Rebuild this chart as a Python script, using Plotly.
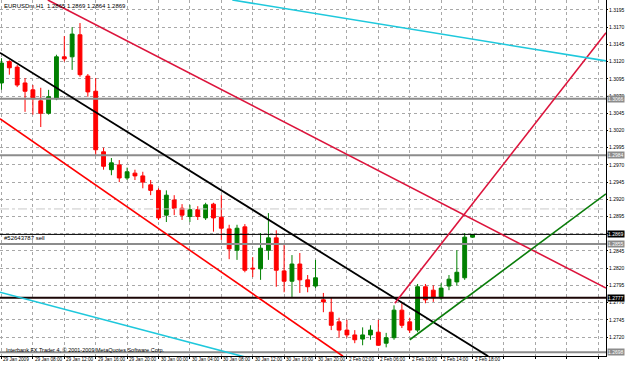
import plotly.graph_objects as go

# ---- candle data (bar index, OHLC) ----
bars = list(range(61))
opens = [1.3089, 1.3120, 1.3112, 1.3089, 1.3079, 1.3063, 1.3045, 1.3066, 1.3127, 1.3127,
         1.3159, 1.3099, 1.3077, 1.2989, 1.2963, 1.2970, 1.2951, 1.2958, 1.2954, 1.2941,
         1.2933, 1.2897, 1.2919, 1.2907, 1.2895, 1.2905, 1.2893, 1.2913, 1.2894, 1.2877,
         1.2846, 1.2880, 1.2820, 1.2819, 1.2846, 1.2864, 1.2816, 1.2801, 1.2826, 1.2803,
         1.2794, 1.2774, 1.2756, 1.2742, 1.2730, 1.2723, 1.2717, 1.2723, 1.2727, 1.2711,
         1.2719, 1.2759, 1.2742, 1.2730, 1.2793, 1.2788, 1.2777, 1.2794, 1.2800, 1.2806,
         1.2865]
highs = [1.3125, 1.3122, 1.3115, 1.3096, 1.3086, 1.3082, 1.3079, 1.3130, 1.3157, 1.3170,
         1.3176, 1.3102, 1.3096, 1.2995, 1.2980, 1.2977, 1.2966, 1.2963, 1.2960, 1.2948,
         1.2936, 1.2933, 1.2926, 1.2913, 1.2912, 1.2910, 1.2915, 1.2915, 1.2926, 1.2883,
         1.2883, 1.2884, 1.2836, 1.2871, 1.2900, 1.2875, 1.2854, 1.2839, 1.2842, 1.2810,
         1.2832, 1.2784, 1.2778, 1.2748, 1.2745, 1.2730, 1.2734, 1.2737, 1.2745, 1.2726,
         1.2766, 1.2769, 1.2748, 1.2797, 1.2797, 1.2795, 1.2798, 1.2810, 1.2846, 1.2871,
         1.2869]
lows = [1.3079, 1.3101, 1.3083, 1.3047, 1.3043, 1.3025, 1.3043, 1.3064, 1.3120, 1.3108,
        1.3098, 1.3069, 1.2984, 1.2963, 1.2955, 1.2945, 1.2948, 1.2948, 1.2936, 1.2926,
        1.2890, 1.2887, 1.2897, 1.2890, 1.2887, 1.2890, 1.2890, 1.2873, 1.2861, 1.2833,
        1.2832, 1.2814, 1.2807, 1.2803, 1.2832, 1.2793, 1.2785, 1.2778, 1.2784, 1.2785,
        1.2791, 1.2756, 1.2730, 1.2719, 1.2719, 1.2711, 1.2708, 1.2716, 1.2707, 1.2705,
        1.2716, 1.2733, 1.2726, 1.2727, 1.2769, 1.2771, 1.2774, 1.2788, 1.2795, 1.2803,
        1.2864]
closes = [1.3118, 1.3111, 1.3086, 1.3077, 1.3066, 1.3045, 1.3069, 1.3127, 1.3124, 1.3160,
          1.3101, 1.3076, 1.2992, 1.2968, 1.2973, 1.2951, 1.2960, 1.2954, 1.2945, 1.2933,
          1.2893, 1.2926, 1.2907, 1.2897, 1.2905, 1.2895, 1.2912, 1.2893, 1.2878, 1.2848,
          1.2878, 1.2817, 1.2819, 1.2849, 1.2864, 1.2817, 1.2801, 1.2826, 1.2803, 1.2793,
          1.2806, 1.2771, 1.2737, 1.2730, 1.2723, 1.2716, 1.2723, 1.2730, 1.2708, 1.2719,
          1.2759, 1.2737, 1.2730, 1.2793, 1.2774, 1.2777, 1.2791, 1.2804, 1.2814, 1.2865,
          1.2869]

# ---- axis ticks ----
time_ticks = [0, 4, 8, 12, 16, 20, 24, 28, 32, 36, 40, 44, 48, 52, 56, 60, 64, 68, 72, 76]
time_labels = ["29 Jan 2009", "29 Jan 08:00", "29 Jan 12:00", "29 Jan 16:00", "29 Jan 20:00",
               "30 Jan 00:00", "30 Jan 04:00", "30 Jan 08:00", "30 Jan 12:00", "30 Jan 16:00",
               "30 Jan 20:00", "2 Feb 02:00", "2 Feb 06:00", "2 Feb 10:00", "2 Feb 14:00",
               "2 Feb 18:00", "", "", "", ""]
price_ticks = [1.2720, 1.2745, 1.2770, 1.2795, 1.2820, 1.2845, 1.2870, 1.2895, 1.2920, 1.2945,
               1.2970, 1.2995, 1.3020, 1.3045, 1.3070, 1.3095, 1.3120, 1.3145, 1.3170, 1.3195]
price_labels = ["1.2720", "1.2745", "1.2770", "1.2795", "1.2820", "1.2845", "1.2870", "1.2895",
                "1.2920", "1.2945", "1.2970", "1.2995", "1.3020", "1.3045", "1.3070", "1.3095",
                "1.3120", "1.3145", "1.3170", "1.3195"]

# ---- horizontal levels ----
level_prices = [1.3066, 1.2984, 1.2906, 1.2869, 1.2855, 1.2777, 1.2698]
level_colors = ["#8c8c8c", "#8c8c8c", "#c8c8c8", "#000000", "#8c8c8c", "#1a0505", "#8c8c8c"]
level_widths = [2, 2, 1, 1, 2, 2, 2]
level_dash = ["solid", "solid", "dashdot", "solid", "solid", "solid", "solid"]
level_box = [True, True, False, True, True, True, True]

# ---- trend lines: (bar0, price0, bar1, price1) ----
trend_black = [-0.2, 1.3133, 62.0, 1.2692]
trend_red = [-0.2, 1.3037, 43.5, 1.2692]
trend_crimson_down = [5.9, 1.32095, 77.0, 1.2791]
trend_crimson_up = [50.1, 1.2769, 77.0, 1.3162]
trend_green = [52.0, 1.2716, 77.0, 1.2928]
trend_cyan_up = [29.4, 1.32095, 77.0, 1.3121]
trend_cyan_low = [-0.2, 1.2785, 31.0, 1.2691]

x_min, x_max = -0.19, 77.0
y_min, y_max = 1.26924, 1.32095

fig = go.Figure()

for p, c, w, d in zip(level_prices, level_colors, level_widths, level_dash):
    fig.add_trace(go.Scatter(x=[x_min, x_max], y=[p, p], mode="lines",
                             line=dict(color=c, width=w, dash=d), hoverinfo="skip"))

fig.add_trace(go.Candlestick(
    x=bars, open=opens, high=highs, low=lows, close=closes,
    increasing=dict(line=dict(color="#008000", width=1), fillcolor="#008000"),
    decreasing=dict(line=dict(color="#ff0000", width=1), fillcolor="#ff0000"),
    whiskerwidth=0, hoverinfo="skip"))

trends = [
    (trend_black, "#000000", 1.8),
    (trend_red, "#ff0000", 1.6),
    (trend_crimson_down, "#dc143c", 1.6),
    (trend_crimson_up, "#dc143c", 1.6),
    (trend_green, "#0a7d0a", 1.6),
    (trend_cyan_up, "#1ec8dc", 1.6),
    (trend_cyan_low, "#1ec8dc", 1.6),
]
for t, c, w in trends:
    fig.add_trace(go.Scatter(x=[t[0], t[2]], y=[t[1], t[3]], mode="lines",
                             line=dict(color=c, width=w), hoverinfo="skip"))

FONT = "Liberation Sans"
font_small = dict(family=FONT, size=6, color="#000000")

annotations = [
    dict(text="EURUSDm,H1  1.2865 1.2869 1.2864 1.2869", xref="paper", yref="paper",
         x=0.004, y=0.998, xanchor="left", yanchor="top", showarrow=False, font=font_small),
    dict(text="Interbank FX Trader 4, \u00a9 2001-2009 MetaQuotes Software Corp.", xref="paper",
         yref="paper", x=0.006, y=0.016, xanchor="left", yanchor="middle", showarrow=False,
         font=dict(family=FONT, size=5.5, color="#000000")),
    dict(text="#52643787 sell", xref="paper", yref="y", x=0.004, y=1.2855, xanchor="left",
         yanchor="bottom", yshift=1, showarrow=False, font=font_small),
]
# time labels just below the time axis, to the right of each grid line
for tv, tl in zip(time_ticks, time_labels):
    if tl:
        annotations.append(dict(text=tl, xref="x", yref="paper", x=tv, y=0, xanchor="left",
                                yanchor="top", xshift=1, yshift=0, showarrow=False,
                                borderpad=0, font=dict(family=FONT, size=4.7, color="#000000")))
for p, c, b in zip(level_prices, level_colors, level_box):
    if not b:
        continue
    bg = "#000000" if c in ("#000000", "#1a0505") else "#8c8c8c"
    annotations.append(dict(text="%.4f" % p, xref="paper", yref="y", x=1, y=p, xanchor="left",
                            yanchor="middle", xshift=1, showarrow=False, bgcolor=bg, borderpad=0,
                            font=dict(family=FONT, size=5, color="#ffffff")))

fig.update_layout(
    template="none",
    width=625, height=365,
    margin=dict(l=0, r=19, t=0, b=9),
    paper_bgcolor="#ffffff", plot_bgcolor="#ffffff",
    showlegend=False,
    annotations=annotations,
    xaxis=dict(range=[x_min, x_max], rangeslider=dict(visible=False), tickmode="array",
               tickvals=time_ticks, ticktext=[""] * len(time_ticks), showgrid=True,
               gridcolor="#a8a8a8", griddash="dot", gridwidth=1, zeroline=False, showline=True,
               linecolor="#000000", linewidth=1, ticks="outside", ticklen=2, tickcolor="#000000",
               automargin=False, fixedrange=True),
    yaxis=dict(range=[y_min, y_max], side="right", tickmode="array", tickvals=price_ticks,
               ticktext=price_labels, showgrid=True, gridcolor="#a8a8a8", griddash="dot",
               gridwidth=1, zeroline=False, showline=True, linecolor="#000000", linewidth=1,
               ticks="outside", ticklen=1, tickcolor="#000000",
               tickfont=dict(family=FONT, size=5, color="#000000"),
               automargin=False, fixedrange=True),
)

fig.write_html("out.html")
